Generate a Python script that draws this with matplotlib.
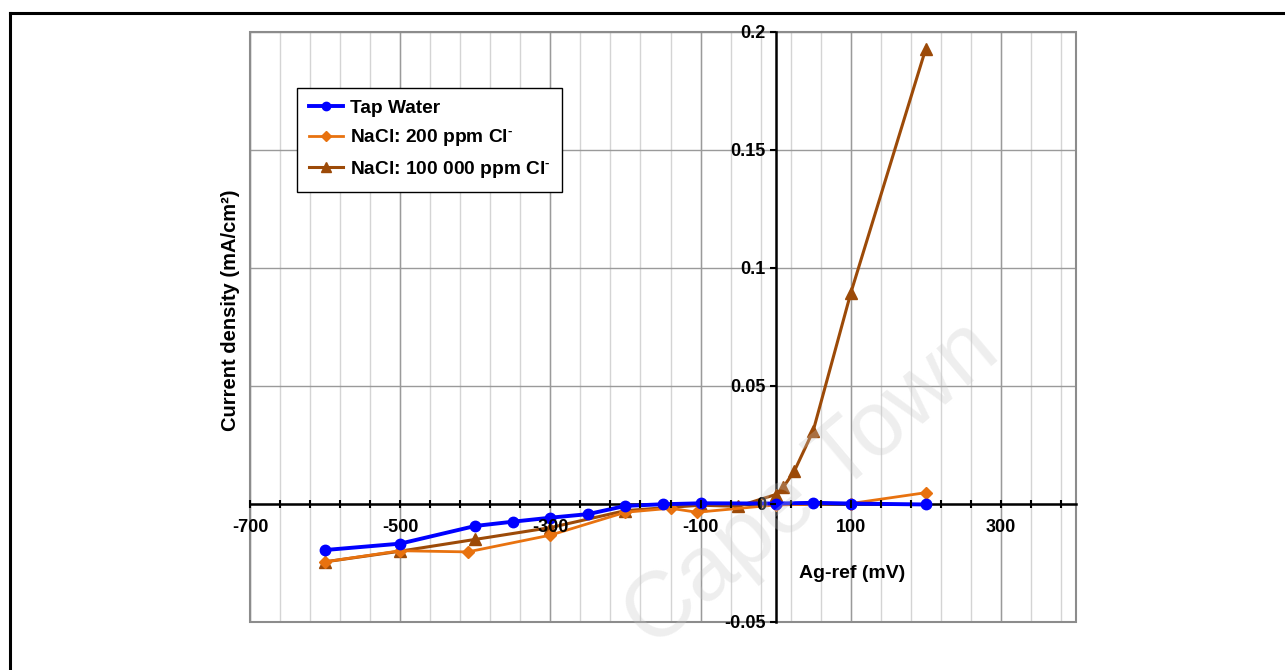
import numpy as np
import matplotlib
matplotlib.use("Agg")
import matplotlib.pyplot as plt
from matplotlib.ticker import FixedLocator, FuncFormatter
from matplotlib.patches import Rectangle
from matplotlib.lines import Line2D

plt.rcParams['font.family'] = ['Liberation Sans', 'DejaVu Sans']
plt.rcParams['font.weight'] = 'bold'
plt.rcParams['mathtext.fontset'] = 'custom'
plt.rcParams['mathtext.rm'] = 'Liberation Sans:bold'
plt.rcParams['mathtext.bf'] = 'Liberation Sans:bold'
plt.rcParams['mathtext.default'] = 'bf'

# Polarisation data: potential vs Ag reference (mV), current density (mA/cm2)
tap_potential = [-600, -500, -400, -350, -300, -250, -200, -150, -100, 0, 50, 100, 200]
tap_current = [-0.0195, -0.0168, -0.0093, -0.0075, -0.0058, -0.0043, -0.0008,
               -0.0001, 0.0003, 0.0002, 0.0005, 0.0002, -0.0002]

nacl200_potential = [-600, -500, -410, -300, -200, -140, -105, 0, 100, 200]
nacl200_current = [-0.0245, -0.0198, -0.0203, -0.0132, -0.0035, -0.0018,
                   -0.0035, -0.0004, 0.0002, 0.0048]

nacl100k_potential = [-600, -500, -400, -300, -200, -100, -50, 0, 10, 25, 50, 100, 200]
nacl100k_current = [-0.0245, -0.0200, -0.0150, -0.0100, -0.0028, -0.0005, -0.0010,
                    0.0040, 0.0070, 0.0140, 0.0310, 0.0893, 0.193]

series_labels = ['Tap Water',
                 r'NaCl: 200 ppm Cl$^{\text{-}}$',
                 r'NaCl: 100 000 ppm Cl$^{\text{-}}$']

x_major = [-700, -500, -300, -100, 100, 300]
y_major = [-0.05, 0, 0.05, 0.1, 0.15, 0.2]

W, H = 1285, 670
fig = plt.figure(figsize=(W / 100, H / 100), dpi=100)

# outer chart frame (left and top edges visible)
fig.add_artist(Line2D([10 / W, 10 / W], [0, 1 - 13 / H], color='black', lw=2.2,
                      transform=fig.transFigure))
fig.add_artist(Line2D([10 / W, 1], [1 - 13 / H, 1 - 13 / H], color='black', lw=2.2,
                      transform=fig.transFigure))

ax = fig.add_axes([250 / W, 1 - 622 / H, 826 / W, 590 / H])
ax.set_xlim(-700, 400)
ax.set_ylim(-0.05, 0.2)

# grid
minor_x = np.arange(-700, 401, 40)
for xv in minor_x:
    ax.axvline(xv, color='#d4d4d4', lw=1.0, zorder=0)
for xv in x_major:
    ax.axvline(xv, color='#9a9a9a', lw=1.0, zorder=0.5)
for yv in y_major:
    ax.axhline(yv, color='#9a9a9a', lw=1.0, zorder=0.5)

# axes through the origin
for s in ['top', 'right']:
    ax.spines[s].set_visible(False)
ax.spines['left'].set_position(('data', 0))
ax.spines['bottom'].set_position(('data', 0))
for s in ['left', 'bottom']:
    ax.spines[s].set_color('black')
    ax.spines[s].set_linewidth(1.8)
    ax.spines[s].set_zorder(2)
ax.add_patch(Rectangle((0, 0), 1, 1, transform=ax.transAxes, fill=False,
                       edgecolor='#8c8c8c', lw=1.5, zorder=1, clip_on=False))

ax.xaxis.set_major_locator(FixedLocator(x_major))
ax.xaxis.set_minor_locator(FixedLocator(minor_x))
ax.yaxis.set_major_locator(FixedLocator(y_major))
ax.xaxis.set_major_formatter(FuncFormatter(lambda v, p: '%d' % v))
ax.yaxis.set_major_formatter(FuncFormatter(lambda v, p: '%g' % v))
ax.tick_params(axis='x', which='both', direction='inout', length=6, width=1.5,
               labelsize=13, pad=8)
ax.tick_params(axis='y', which='major', direction='out', length=4, width=1.5,
               labelsize=13, pad=3)
for lab in ax.get_xticklabels() + ax.get_yticklabels():
    lab.set_fontweight('bold')
# tick labels sit on top of the data lines
ax.xaxis.set_zorder(6)
ax.yaxis.set_zorder(6)

# series
ax.plot(nacl100k_potential, nacl100k_current, color='#9c4a08', lw=2.2,
        marker='^', ms=8.5, zorder=3, label=series_labels[2])
ax.plot(nacl200_potential, nacl200_current, color='#e8720f', lw=2.0,
        marker='D', ms=6, zorder=4, label=series_labels[1])
ax.plot(tap_potential, tap_current, color='#0000ff', lw=2.8,
        marker='o', ms=7.5, zorder=5, label=series_labels[0])

handles, labels = ax.get_legend_handles_labels()
leg = ax.legend(handles[::-1], labels[::-1], loc='upper left',
                bbox_to_anchor=(297 / W, 1 - 88 / H), bbox_transform=fig.transFigure,
                borderaxespad=0, fancybox=False, framealpha=1, edgecolor='black',
                prop={'weight': 'bold', 'size': 13.8}, handlelength=1.8,
                labelspacing=0.55, borderpad=0.6, handletextpad=0.35, markerscale=0.8)
leg.get_frame().set_linewidth(1.0)
leg.set_zorder(10)

fig.text(230 / W, 1 - 310 / H, 'Current density (mA/cm²)', rotation=90,
         ha='center', va='center', fontsize=14.5, fontweight='bold')
fig.text(852 / W, 1 - 573 / H, 'Ag-ref (mV)', ha='center', va='center',
         fontsize=14, fontweight='bold')

fig.text(812 / W, 1 - 485 / H, 'Cape Town', rotation=40, ha='center', va='center',
         fontsize=66, color='#c8c8c8', alpha=0.3, fontweight='normal', zorder=20)

fig.savefig('out.png', dpi=100)
